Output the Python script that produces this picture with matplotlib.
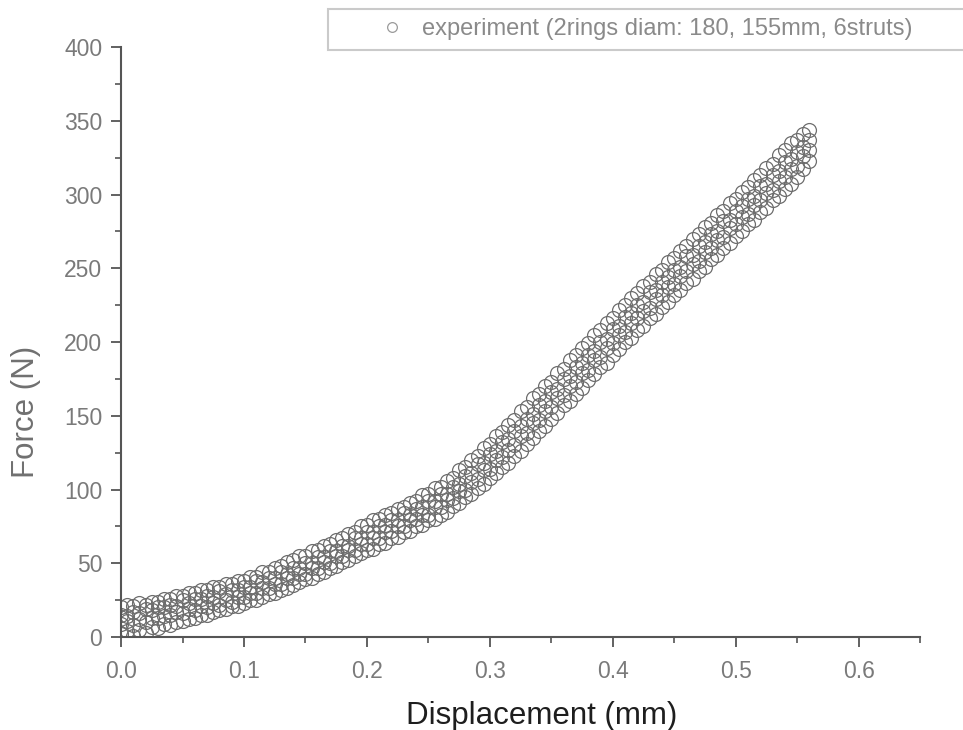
import matplotlib
matplotlib.use("Agg")
from matplotlib import pyplot as plt
from matplotlib.ticker import MultipleLocator

plt.rcParams['font.family'] = ['Liberation Sans', 'DejaVu Sans']

# displacement (mm), one reading every 0.005 mm
disp = [0.000, 0.005, 0.010, 0.015, 0.020, 0.025, 0.030, 0.035, 0.040, 0.045,
        0.050, 0.055, 0.060, 0.065, 0.070, 0.075, 0.080, 0.085, 0.090, 0.095,
        0.100, 0.105, 0.110, 0.115, 0.120, 0.125, 0.130, 0.135, 0.140, 0.145,
        0.150, 0.155, 0.160, 0.165, 0.170, 0.175, 0.180, 0.185, 0.190, 0.195,
        0.200, 0.205, 0.210, 0.215, 0.220, 0.225, 0.230, 0.235, 0.240, 0.245,
        0.250, 0.255, 0.260, 0.265, 0.270, 0.275, 0.280, 0.285, 0.290, 0.295,
        0.300, 0.305, 0.310, 0.315, 0.320, 0.325, 0.330, 0.335, 0.340, 0.345,
        0.350, 0.355, 0.360, 0.365, 0.370, 0.375, 0.380, 0.385, 0.390, 0.395,
        0.400, 0.405, 0.410, 0.415, 0.420, 0.425, 0.430, 0.435, 0.440, 0.445,
        0.450, 0.455, 0.460, 0.465, 0.470, 0.475, 0.480, 0.485, 0.490, 0.495,
        0.500, 0.505, 0.510, 0.515, 0.520, 0.525, 0.530, 0.535, 0.540, 0.545,
        0.550, 0.555, 0.560]

# force (N): lowest, two inner and highest runs
force_low = [2, 4, 1, 5, 3, 7, 6, 9, 8, 10,
             11, 12, 13, 15, 15, 17, 18, 19, 21, 21,
             23, 25, 25, 27, 29, 30, 32, 33, 35, 37,
             39, 40, 43, 44, 47, 48, 51, 52, 55, 57,
             59, 60, 63, 64, 67, 68, 71, 72, 75, 76,
             79, 80, 83, 85, 89, 91, 95, 97, 101, 104,
             108, 111, 115, 118, 123, 126, 131, 135, 140, 143,
             148, 152, 157, 160, 165, 169, 174, 178, 183, 186,
             191, 195, 200, 203, 208, 211, 216, 219, 224, 227,
             232, 235, 240, 243, 248, 251, 256, 259, 264, 267,
             272, 275, 280, 283, 288, 291, 296, 299, 304, 307,
             312, 317, 323]
force_mid1 = [9, 11, 8, 12, 10, 13, 13, 14, 15, 17,
              16, 19, 18, 21, 20, 23, 22, 25, 24, 27,
              27, 30, 30, 33, 33, 36, 36, 40, 40, 43,
              43, 47, 47, 51, 50, 55, 55, 59, 59, 63,
              63, 67, 67, 71, 72, 75, 75, 79, 80, 83,
              83, 88, 88, 93, 94, 99, 100, 105, 107, 113,
              114, 120, 122, 127, 130, 136, 138, 145, 147, 153,
              156, 162, 164, 170, 173, 179, 181, 188, 190, 196,
              199, 205, 207, 213, 216, 221, 223, 229, 232, 237,
              239, 245, 248, 253, 255, 261, 264, 269, 271, 277,
              280, 285, 287, 293, 296, 301, 303, 309, 312, 317,
              319, 326, 330]
force_mid2 = [15, 14, 17, 16, 19, 18, 20, 20, 22, 21,
              25, 23, 26, 26, 28, 27, 31, 29, 32, 32,
              34, 34, 38, 37, 40, 40, 44, 43, 47, 47,
              50, 50, 54, 54, 58, 58, 62, 62, 67, 67,
              71, 71, 75, 76, 79, 79, 84, 83, 87, 88,
              92, 92, 97, 97, 102, 104, 109, 111, 117, 118,
              124, 126, 132, 134, 140, 143, 148, 151, 157, 160,
              166, 168, 175, 177, 183, 186, 191, 194, 200, 202,
              209, 211, 217, 220, 225, 227, 234, 235, 241, 244,
              249, 251, 258, 259, 265, 268, 273, 275, 282, 283,
              289, 292, 297, 299, 306, 307, 313, 316, 322, 324,
              329, 332, 337]
force_high = [20, 22, 21, 23, 22, 24, 24, 26, 26, 28,
              28, 30, 30, 32, 32, 34, 34, 36, 36, 38,
              38, 41, 41, 44, 44, 47, 48, 51, 52, 55,
              55, 58, 59, 62, 63, 66, 67, 70, 71, 75,
              76, 79, 80, 83, 84, 87, 88, 91, 92, 96,
              97, 101, 102, 106, 108, 113, 115, 120, 123, 128,
              131, 136, 139, 144, 147, 153, 156, 162, 165, 170,
              173, 179, 182, 188, 191, 196, 199, 205, 208, 213,
              216, 222, 225, 230, 233, 238, 241, 246, 249, 254,
              257, 262, 265, 270, 273, 278, 281, 286, 289, 294,
              297, 302, 305, 310, 313, 318, 321, 327, 330, 335,
              337, 341, 344]

legend_text = "experiment (2rings diam: 180, 155mm, 6struts)"

fig = plt.figure(figsize=(9.63, 7.30), dpi=100)
ax = fig.add_axes([0.1257, 0.1274, 0.8297, 0.8082])

mk = dict(marker='o', linestyle='none', markersize=10, markerfacecolor='none',
          markeredgecolor='#6e6e6e', markeredgewidth=0.9)
ax.plot(disp, force_low, label=legend_text, **mk)
ax.plot(disp, force_mid1, **mk)
ax.plot(disp, force_mid2, **mk)
ax.plot(disp, force_high, **mk)

ax.set_xlim(0, 0.65)
ax.set_ylim(0, 400)
ax.xaxis.set_major_locator(MultipleLocator(0.1))
ax.xaxis.set_minor_locator(MultipleLocator(0.05))
ax.yaxis.set_major_locator(MultipleLocator(50))
ax.yaxis.set_minor_locator(MultipleLocator(25))
ax.xaxis.set_major_formatter(plt.FuncFormatter(lambda v, p: "%.1f" % v))

for s in ['top', 'right']:
    ax.spines[s].set_visible(False)
for s in ['left', 'bottom']:
    ax.spines[s].set_color('#555555')
    ax.spines[s].set_linewidth(1.5)

ax.tick_params(which='major', length=7.5, width=1.3, color='#555555',
               labelsize=16.5, labelcolor='#7a7a7a')
ax.tick_params(which='minor', length=4.5, width=1.2, color='#555555')
ax.tick_params(axis='x', which='major', pad=9)
ax.tick_params(axis='y', which='major', pad=6)

ax.set_xlabel("Displacement (mm)", fontsize=22.5, color='#1e1e1e')
ax.set_ylabel("Force (N)", fontsize=22.5, color='#707070')
ax.xaxis.set_label_coords(0.526, -0.108)
ax.yaxis.set_label_coords(-0.1, 0.381)

leg = ax.legend(loc='upper left', bbox_to_anchor=(0.3406, 0.9329, 0.70, 0.0548),
                bbox_transform=fig.transFigure, mode='expand', borderaxespad=0,
                fontsize=17, frameon=True, fancybox=False, numpoints=1,
                markerscale=0.7, handlelength=4.6, handletextpad=-1.0,
                borderpad=0.4)
leg.get_frame().set_edgecolor('#bdbdbd')
leg.get_frame().set_linewidth(1.5)
for t in leg.get_texts():
    t.set_color('#8a8a8a')
for h in leg.legend_handles:
    h.set_markeredgecolor('#9a9a9a')

plt.savefig("out.png", dpi=100)
